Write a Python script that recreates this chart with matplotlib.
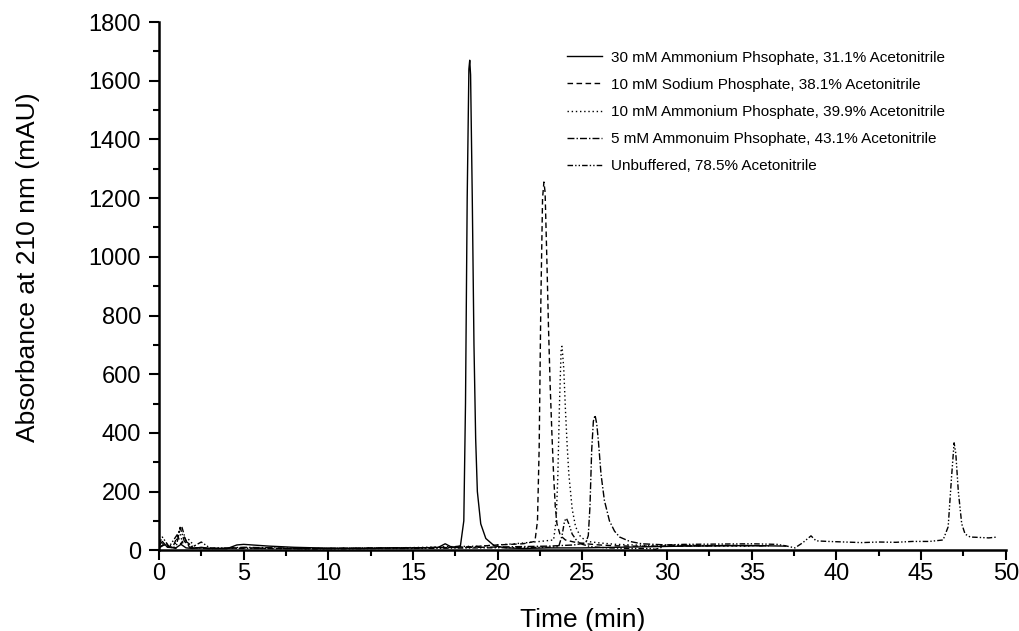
import numpy as np
import matplotlib.pyplot as plt
from matplotlib.ticker import MultipleLocator

plt.rcParams['font.family'] = ['Liberation Sans', 'DejaVu Sans']

# --- series (time in min, absorbance in mAU) ---
t_30amm = [0, 0.2, 0.5, 1.0, 1.3, 1.6, 2.0, 2.5, 3.0, 4.0, 4.6, 5.0, 5.5, 6.5, 8, 10, 12, 14,
           15.5, 16.5, 16.9, 17.3, 17.8, 18.0, 18.1, 18.2, 18.3, 18.35, 18.4, 18.5, 18.6,
           18.7, 18.8, 19.0, 19.3, 19.8, 20.5, 21.5, 23, 24, 25, 27, 29, 31, 33, 35, 37]
a_30amm = [15, 30, 10, 8, 20, 8, 6, 10, 6, 5, 18, 20, 18, 14, 10, 7, 6, 8,
           8, 10, 22, 10, 15, 100, 500, 1200, 1640, 1670, 1620, 1200, 700,
           380, 200, 90, 40, 15, 8, 6, 8, 8, 8, 10, 12, 14, 15, 16, 14]

t_10sod = [0, 0.3, 0.8, 1.1, 1.3, 1.5, 1.8, 2.3, 3, 5, 7, 9, 11, 13, 15, 17, 18.5, 20, 21.5,
           22.2, 22.35, 22.45, 22.55, 22.65, 22.73, 22.8, 22.9, 23.0, 23.1, 23.2, 23.3, 23.4,
           23.5, 23.7, 24.0, 24.5, 25.2, 26, 27, 28, 30, 32, 34, 36]
a_10sod = [10, 20, 8, 50, 20, 45, 10, 8, 6, 8, 6, 5, 6, 7, 8, 10, 12, 18, 22,
           30, 100, 350, 850, 1200, 1255, 1220, 1000, 760, 560, 400, 260, 150,
           90, 50, 35, 28, 22, 18, 15, 14, 14, 15, 16, 15]

t_10amm = [0, 0.3, 0.9, 1.2, 1.4, 1.7, 2.2, 3, 5, 7, 9, 11, 13, 15, 17, 19, 21, 22.5, 23.3,
           23.45, 23.55, 23.65, 23.75, 23.8, 23.9, 24.0, 24.1, 24.2, 24.4, 24.6, 24.9, 25.3,
           26, 27, 29, 31, 33, 35]
a_10amm = [12, 25, 10, 65, 25, 40, 8, 6, 7, 6, 6, 7, 8, 9, 12, 14, 22, 30, 35,
           100, 250, 500, 690, 695, 620, 480, 360, 260, 140, 80, 45, 30,
           25, 20, 16, 15, 15, 14]

t_5amm = [0, 0.3, 1.0, 1.25, 1.5, 2.0, 3, 5, 7, 9, 11, 13, 15, 17, 19, 21, 23, 24.5, 25.2,
          25.35, 25.45, 25.55, 25.65, 25.75, 25.85, 25.95, 26.1, 26.3, 26.6, 26.9, 27.2,
          27.8, 28.5, 30, 32, 34, 36]
a_5amm = [8, 18, 6, 78, 30, 8, 5, 10, 8, 6, 7, 8, 8, 9, 10, 12, 14, 18, 25,
          50, 150, 340, 440, 460, 430, 370, 260, 170, 100, 65, 45,
          30, 22, 18, 16, 16, 15]

t_unbuf = [0, 0.2, 0.6, 1.1, 1.35, 1.6, 2.0, 2.5, 3, 5, 7, 9, 11, 13, 15, 17, 19, 21, 23.0,
           23.6, 23.8, 23.95, 24.06, 24.2, 24.4, 24.7, 25.0, 25.5, 26.5, 28, 29.0, 29.3,
           29.6, 30, 31, 33, 35, 36.5, 37.0, 37.55, 38.0, 38.5, 38.8, 39.5, 40.5, 41.5,
           42.5, 43.5, 44.5, 45.5, 46.3, 46.6, 46.8, 46.95, 47.05, 47.2, 47.4, 47.6,
           47.9, 48.3, 49.0, 49.5]
a_unbuf = [20, 45, 12, 55, 80, 30, 12, 28, 8, 6, 6, 5, 5, 6, 6, 7, 8, 9, 10,
           12, 50, 100, 109, 90, 55, 30, 20, 12, 8, 6, 6, 3,
           8, 18, 20, 21, 22, 20, 15, 8, 25, 49, 32, 30, 28, 26,
           28, 27, 30, 30, 35, 80, 250, 366, 330, 200, 90, 55,
           45, 44, 42, 45]

labels = ["30 mM Ammonium Phsophate, 31.1% Acetonitrile",
          "10 mM Sodium Phosphate, 38.1% Acetonitrile",
          "10 mM Ammonium Phosphate, 39.9% Acetonitrile",
          "5 mM Ammonuim Phsophate, 43.1% Acetonitrile",
          "Unbuffered, 78.5% Acetonitrile"]

styles = ['-', (0, (4, 2.5)), (0, (1, 2)), (0, (5, 1.5, 1, 1.5)), (0, (4, 1.5, 1, 1.5, 1, 1.5))]

fig = plt.figure(figsize=(10.19, 6.31), dpi=100)
ax = fig.add_axes([0.156, 0.128, 0.831, 0.837])

series = [(t_30amm, a_30amm), (t_10sod, a_10sod), (t_10amm, a_10amm),
          (t_5amm, a_5amm), (t_unbuf, a_unbuf)]
for (t, a), ls, lab in zip(series, styles, labels):
    ax.plot(t, a, color='black', linestyle=ls, linewidth=1.0, label=lab)

ax.set_xlim(0, 50)
ax.set_ylim(0, 1800)
ax.xaxis.set_major_locator(MultipleLocator(5))
ax.xaxis.set_minor_locator(MultipleLocator(2.5))
ax.yaxis.set_major_locator(MultipleLocator(200))
ax.yaxis.set_minor_locator(MultipleLocator(100))

for s in ['top', 'right']:
    ax.spines[s].set_visible(False)
for s in ['left', 'bottom']:
    ax.spines[s].set_linewidth(1.8)

ax.tick_params(axis='both', which='major', direction='out', length=7, width=1.5, labelsize=17)
ax.tick_params(axis='both', which='minor', direction='out', length=4, width=1.5)
ax.tick_params(axis='y', which='major', pad=6)
ax.tick_params(axis='x', which='major', pad=2)

ax.set_xlabel("Time (min)", fontsize=19, labelpad=17)
ax.set_ylabel("Absorbance at 210 nm (mAU)", fontsize=19)
ax.yaxis.set_label_coords(-0.141, 0.536)

ax.legend(loc='upper left', bbox_to_anchor=(0.466, 0.972), frameon=False, fontsize=11,
          handlelength=2.3, handletextpad=0.55, labelspacing=0.86)

fig.savefig("out.png", dpi=100)
